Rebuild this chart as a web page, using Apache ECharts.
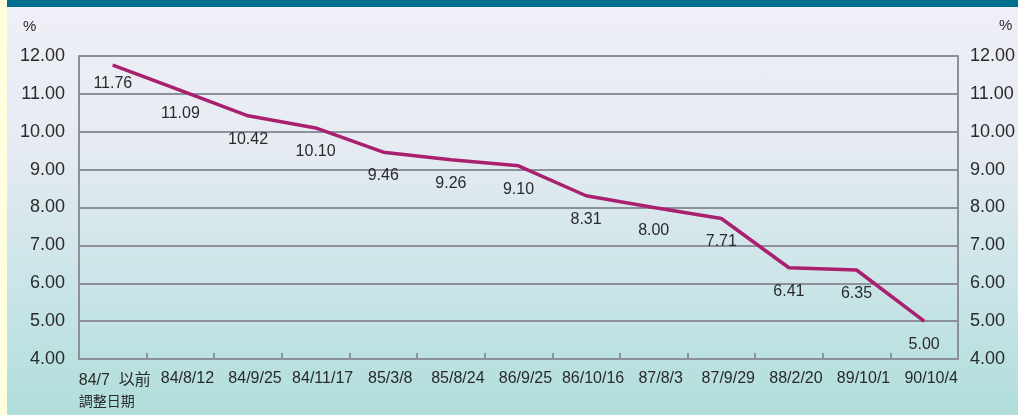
<!DOCTYPE html>
<html>
<head>
<meta charset="utf-8">
<script src="https://cdn.jsdelivr.net/npm/echarts@6/dist/echarts.min.js"></script>
<style>
html,body{margin:0;padding:0;}
body{width:1018px;height:415px;overflow:hidden;position:relative;background:#ffffe0;}
#bg{position:absolute;left:7px;top:0;width:1011px;height:415px;background:linear-gradient(to bottom,#efeff7 0%,#e6ebf2 35%,#c9e4e7 70%,#b0dedb 100%);}
#bar{position:absolute;left:7px;top:0;width:1011px;height:7px;background:#007090;}
#chart{position:absolute;left:0;top:0;width:1018px;height:415px;}
</style>
</head>
<body>
<div id="bg"></div>
<div id="bar"></div>
<div id="chart"></div>
<script>
const categories = ['84/7  以前\n調整日期','84/8/12','84/9/25','84/11/17','85/3/8','85/8/24','86/9/25','86/10/16','87/8/3','87/9/29','88/2/20','89/10/1','90/10/4'];
const rates = [11.76,11.09,10.42,10.10,9.46,9.26,9.10,8.31,8.00,7.71,6.41,6.35,5.00];
const yTicks = {min:4, max:12, interval:1};
const unitLabel = '%';

const chart = echarts.init(document.getElementById('chart'), null, {renderer:'canvas'});
const gridColor = '#8b909b';
const xData = categories.map((c,i)=> i===0 ? {value:c, textStyle:{padding:[0,0,0,4]}} : c);
const seriesData = rates.map((v,i)=> i===0 ? {value:v, label:{distance:10}} : v);
function yAxisCfg(pos){
  return {
    type:'value', position:pos, min:yTicks.min, max:yTicks.max, interval:yTicks.interval,
    axisLine:{show:true, lineStyle:{color:gridColor,width:2}},
    axisTick:{show:false},
    splitLine:{show:pos==='left', lineStyle:{color:gridColor,width:2}},
    axisLabel:{color:'#2a2a2a', fontSize:18, fontFamily:'Liberation Sans, Arial, sans-serif',
      margin: pos==='left'?14:12, formatter:v=>v.toFixed(2)}
  };
}
chart.setOption({
  animation:false,
  grid:{left:79,right:60,top:56,bottom:56,containLabel:false},
  graphic:[
    {type:'text',left:23,top:19,style:{text:unitLabel,fontSize:15,fill:'#2a2a2a',fontFamily:'Liberation Sans, Arial, sans-serif'}},
    {type:'text',left:999,top:18,style:{text:unitLabel,fontSize:15,fill:'#2a2a2a',fontFamily:'Liberation Sans, Arial, sans-serif'}}
  ],
  xAxis:{
    type:'category', data:xData, boundaryGap:true,
    axisLine:{show:true,lineStyle:{color:gridColor,width:2}},
    axisTick:{show:true,inside:true,length:6,lineStyle:{color:gridColor,width:2}},
    axisLabel:{
      interval:0, color:'#2a2a2a', fontSize:16, margin:12, padding:[0,0,0,14],
      fontFamily:'Liberation Sans, Arial, sans-serif',
      formatter:(v,i)=>{
        if(i===0){const p=v.split('\n');return '{a|'+p[0]+'}\n{b|'+p[1]+'}';}
        return v;
      },
      rich:{
        a:{fontSize:16,align:'left',color:'#2a2a2a',fontFamily:'Liberation Sans, Arial, "Noto Sans CJK TC", sans-serif',lineHeight:20},
        b:{fontSize:14,align:'left',color:'#2a2a2a',fontFamily:'"Noto Sans CJK TC", sans-serif',lineHeight:20}
      }
    },
    splitLine:{show:false}
  },
  yAxis:[yAxisCfg('left'), yAxisCfg('right')],
  series:[{
    type:'line', data:seriesData, yAxisIndex:0,
    symbol:'circle', symbolSize:1, showSymbol:true, smooth:false,
    itemStyle:{color:'#a8206e'},
    lineStyle:{color:'#a8206e',width:3.5,join:'round'},
    label:{show:true,position:'bottom',distance:15,color:'#2a2a2a',fontSize:16,
      fontFamily:'Liberation Sans, Arial, sans-serif',formatter:p=>p.value.toFixed(2)}
  }]
});
</script>
</body>
</html>
